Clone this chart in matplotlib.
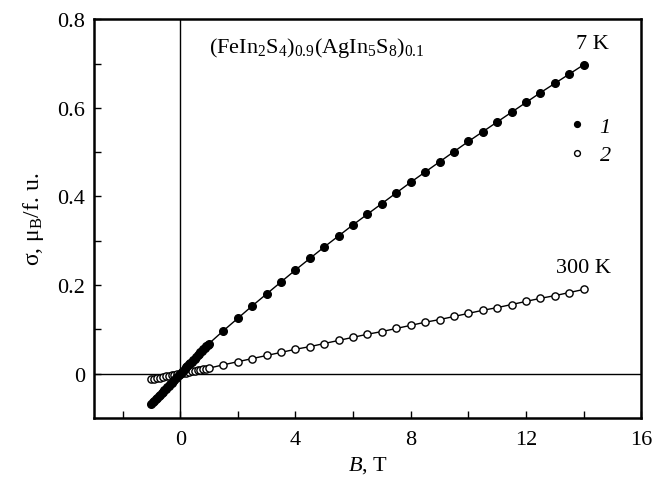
import matplotlib
matplotlib.use('Agg')
import matplotlib.pyplot as plt
from matplotlib.lines import Line2D

plt.rcParams['font.family'] = ['Liberation Serif', 'DejaVu Serif']
plt.rcParams['mathtext.fontset'] = 'custom'
plt.rcParams['mathtext.rm'] = 'Liberation Serif'
plt.rcParams['mathtext.it'] = 'Liberation Serif:italic'
plt.rcParams['mathtext.default'] = 'regular'

# field values, T
b7_low = [-1.0, -0.95, -0.9, -0.85, -0.8, -0.75, -0.7, -0.65, -0.6, -0.55,
          -0.5, -0.45, -0.4, -0.35, -0.3, -0.25, -0.2, -0.15, -0.1, -0.05,
          0.0, 0.05, 0.1, 0.15, 0.2, 0.25, 0.3, 0.35, 0.4, 0.45, 0.5, 0.55,
          0.6, 0.65, 0.7, 0.75, 0.8, 0.85, 0.9, 0.95, 1.0]
b300_low = [-1.0, -0.9, -0.8, -0.7, -0.6, -0.5, -0.4, -0.3, -0.2, -0.1, 0.0,
            0.1, 0.2, 0.3, 0.4, 0.5, 0.6, 0.7, 0.8, 0.9, 1.0]
b_high = [1.5, 2.0, 2.5, 3.0, 3.5, 4.0, 4.5, 5.0, 5.5, 6.0, 6.5, 7.0, 7.5,
          8.0, 8.5, 9.0, 9.5, 10.0, 10.5, 11.0, 11.5, 12.0, 12.5, 13.0,
          13.5, 14.0]

# 7 K (curve 1)
s7_low = [-0.068, -0.065, -0.062, -0.058, -0.055, -0.051, -0.048, -0.044,
          -0.041, -0.038, -0.034, -0.031, -0.027, -0.024, -0.021, -0.017,
          -0.014, -0.010, -0.007, -0.003, 0.0, 0.003, 0.007, 0.010, 0.014,
          0.017, 0.021, 0.024, 0.027, 0.031, 0.034, 0.038, 0.041, 0.044,
          0.048, 0.051, 0.055, 0.058, 0.062, 0.065, 0.068]
s7_high = [0.097, 0.125, 0.153, 0.180, 0.207, 0.234, 0.260, 0.286, 0.311,
           0.336, 0.360, 0.384, 0.408, 0.432, 0.455, 0.478, 0.501, 0.524,
           0.546, 0.568, 0.590, 0.612, 0.634, 0.655, 0.676, 0.697]

# 300 K (curve 2)
s300_low = [-0.0125, -0.0112, -0.010, -0.0088, -0.0075, -0.0062, -0.005,
            -0.0038, -0.0025, -0.0012, 0.0, 0.0012, 0.0025, 0.0038, 0.005,
            0.0062, 0.0075, 0.0088, 0.010, 0.0112, 0.0125]
s300_high = [0.020, 0.027, 0.034, 0.041, 0.048, 0.055, 0.061, 0.068, 0.075,
             0.082, 0.089, 0.095, 0.102, 0.109, 0.116, 0.122, 0.129, 0.136,
             0.143, 0.149, 0.156, 0.163, 0.170, 0.176, 0.183, 0.190]

fig = plt.figure(figsize=(6.7, 4.81), dpi=100)
ax = fig.add_axes([0.140, 0.129, 0.817, 0.829])

ax.axhline(0, color='black', lw=1.0, zorder=1)
ax.axvline(0, color='black', lw=1.0, zorder=1)

ax.plot(b300_low + b_high, s300_low + s300_high, '-o', color='black', lw=1.0,
        ms=5.2, mfc='white', mec='black', mew=1.0, zorder=3)
ax.plot(b7_low + b_high, s7_low + s7_high, '-o', color='black', lw=1.0,
        ms=5.5, mfc='black', mec='black', zorder=4)

ax.set_xlim(-3, 16)
ax.set_ylim(-0.1, 0.8)
ax.set_xticks([0, 4, 8, 12, 16])
ax.set_xticks([-2, 2, 6, 10, 14], minor=True)
ax.set_yticks([0, 0.2, 0.4, 0.6, 0.8])
ax.set_yticklabels(['0', '0.2', '0.4', '0.6', '0.8'])
ax.set_yticks([0.1, 0.3, 0.5, 0.7], minor=True)
ax.tick_params(which='both', direction='in', labelsize=16, width=1.0, length=5)
ax.tick_params(axis='x', pad=9)
ax.tick_params(axis='y', pad=6)
for sp in ax.spines.values():
    sp.set_linewidth(1.8)

ax.set_xlabel(r'$\mathit{B}$, T', fontsize=16, labelpad=3)
ax.set_ylabel(r'σ, μ$_{B}$/f. u.', fontsize=17, labelpad=8)

ax.text(1.0, 0.737, r'(FeIn$_{2}$S$_{4}$)$_{0.9}$(AgIn$_{5}$S$_{8}$)$_{0.1}$',
        fontsize=16, va='center', ha='left')
ax.text(14.3, 0.745, '7 K', fontsize=16, ha='center', va='center')
ax.text(14.0, 0.24, '300 K', fontsize=16, ha='center', va='center')

handles = [Line2D([], [], ls='none', marker='o', ms=4.2, mfc='black', mec='black'),
           Line2D([], [], ls='none', marker='o', ms=4.2, mfc='white', mec='black')]
ax.legend(handles, ['1', '2'], loc='center', bbox_to_anchor=(14.25, 0.525),
          bbox_transform=ax.transData, frameon=False, handlelength=0.6,
          handletextpad=0.7, labelspacing=0.35,
          prop={'family': 'Liberation Serif', 'style': 'italic', 'size': 16})

fig.savefig('out.png', dpi=100)
